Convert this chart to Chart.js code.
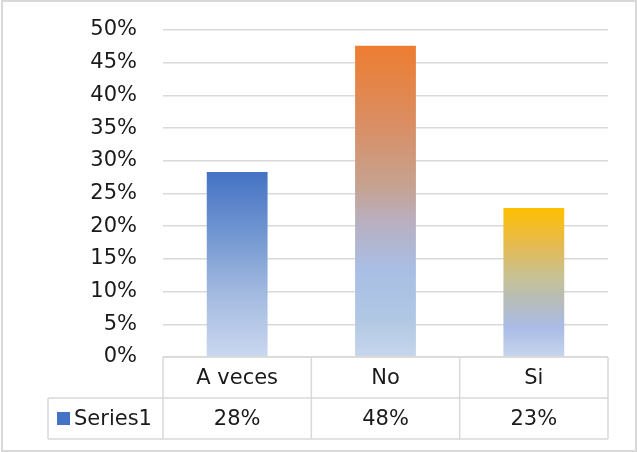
<!DOCTYPE html>
<html>
<head>
<meta charset="utf-8">
<script src="https://cdn.jsdelivr.net/npm/chart.js@4"></script>
<style>
  html, body { margin: 0; padding: 0; background: #fff; }
  #wrap { width: 638px; height: 452px; position: relative; }
</style>
</head>
<body>
<div id="wrap"><canvas id="chart"></canvas></div>
<script>
// データ
const categories = ["A veces", "No", "Si"];
const values = [0.283, 0.476, 0.228];
const seriesName = "Series1";
const yTicks = [0, 0.05, 0.1, 0.15, 0.2, 0.25, 0.3, 0.35, 0.4, 0.45, 0.5];

// バーごとのグラデーション（上→下）
const gradientStops = [
  [[0, "#4472C4"], [0.35, "#7498D2"], [0.65, "#A2B9DF"], [1, "#CAD7EF"]],
  [[0, "#ED7D31"], [0.25, "#DA8E63"], [0.45, "#C6A290"], [0.57, "#B8B0C2"], [0.72, "#A9BEE4"], [0.88, "#B1C8E4"], [1, "#C6D6EC"]],
  [[0, "#FFC000"], [0.25, "#E4BA50"], [0.45, "#C9C290"], [0.6, "#B8BDB4"], [0.8, "#AABBE6"], [1, "#C6D6EC"]],
];

const FONT = "DejaVu Sans";
const FONT_SIZE = 21;
const LINE = "#D9D9D9";

function barGradient(context) {
  const chart = context.chart;
  const { ctx, chartArea, scales } = chart;
  const i = context.dataIndex;
  if (!chartArea || i === undefined) return gradientStops[0][0][1];
  const top = scales.y.getPixelForValue(values[i]);
  const bottom = scales.y.getPixelForValue(0);
  const g = ctx.createLinearGradient(0, top, 0, bottom);
  gradientStops[i].forEach(([p, c]) => g.addColorStop(p, c));
  return g;
}

function pct(v) {
  return Math.round(v * 100) + "%";
}

// データテーブルと外枠を描くプラグイン
const dataTablePlugin = {
  id: "dataTable",
  afterDraw(chart) {
    const { ctx, chartArea, scales } = chart;
    const x = scales.x;
    const left = chartArea.left;
    const right = chartArea.right;
    const rowH = 41;
    const top = chartArea.bottom;
    const legendLeft = 48;
    const step = (right - left) / categories.length;

    ctx.save();
    ctx.strokeStyle = LINE;
    ctx.lineWidth = 1.5;

    // 横線
    ctx.beginPath();
    ctx.moveTo(left, top);
    ctx.lineTo(right, top);
    ctx.moveTo(legendLeft, top + rowH);
    ctx.lineTo(right, top + rowH);
    ctx.moveTo(legendLeft, top + rowH * 2);
    ctx.lineTo(right, top + rowH * 2);
    // 縦線
    for (let k = 0; k <= categories.length; k++) {
      const xx = left + step * k;
      ctx.moveTo(xx, top);
      ctx.lineTo(xx, top + rowH * 2);
    }
    ctx.moveTo(legendLeft, top + rowH);
    ctx.lineTo(legendLeft, top + rowH * 2);
    ctx.stroke();

    // テキスト
    ctx.fillStyle = "#1a1a1a";
    ctx.font = FONT_SIZE + "px '" + FONT + "'";
    ctx.textAlign = "center";
    ctx.textBaseline = "middle";
    categories.forEach((c, i) => {
      const cx = x.getPixelForValue(i);
      ctx.fillText(c, cx, top + rowH / 2 + 1);
      ctx.fillText(pct(values[i]), cx, top + rowH * 1.5 + 1);
    });

    // 凡例キー
    ctx.fillStyle = "#4472C4";
    ctx.fillRect(57, top + rowH + 14, 13, 13);
    ctx.fillStyle = "#1a1a1a";
    ctx.textAlign = "left";
    ctx.fillText(seriesName, 74, top + rowH * 1.5 + 1);

    // 外枠
    ctx.strokeStyle = LINE;
    ctx.lineWidth = 2;
    ctx.strokeRect(2, 1, chart.width - 4, chart.height - 2);
    ctx.restore();
  }
};

const chart = new Chart(document.getElementById("chart"), {
  type: "bar",
  data: {
    labels: categories,
    datasets: [{
      label: seriesName,
      data: values,
      backgroundColor: barGradient,
      borderWidth: 0,
      barPercentage: 0.41,
      categoryPercentage: 1,
    }],
  },
  options: {
    responsive: true,
    maintainAspectRatio: false,
    animation: false,
    layout: {
      padding: { top: 30, bottom: 95, right: 30, left: 0 },
    },
    scales: {
      x: {
        display: false,
      },
      y: {
        min: 0,
        max: 0.5,
        afterBuildTicks: (scale) => {
          scale.ticks = yTicks.map((v) => ({ value: v }));
        },
        afterFit: (scale) => {
          // 軸幅を固定し、ラベル分の上下余白は使わない
          scale.width = 163;
          scale.paddingTop = 0;
          scale.paddingBottom = 0;
        },
        border: { display: false },
        grid: {
          color: LINE,
          lineWidth: 1.5,
          drawTicks: false,
        },
        ticks: {
          padding: 26,
          color: "#1a1a1a",
          font: { family: FONT, size: FONT_SIZE },
          callback: (v) => pct(v),
        },
      },
    },
    plugins: {
      legend: { display: false },
      tooltip: { enabled: false },
    },
  },
  plugins: [dataTablePlugin],
});
</script>
</body>
</html>
